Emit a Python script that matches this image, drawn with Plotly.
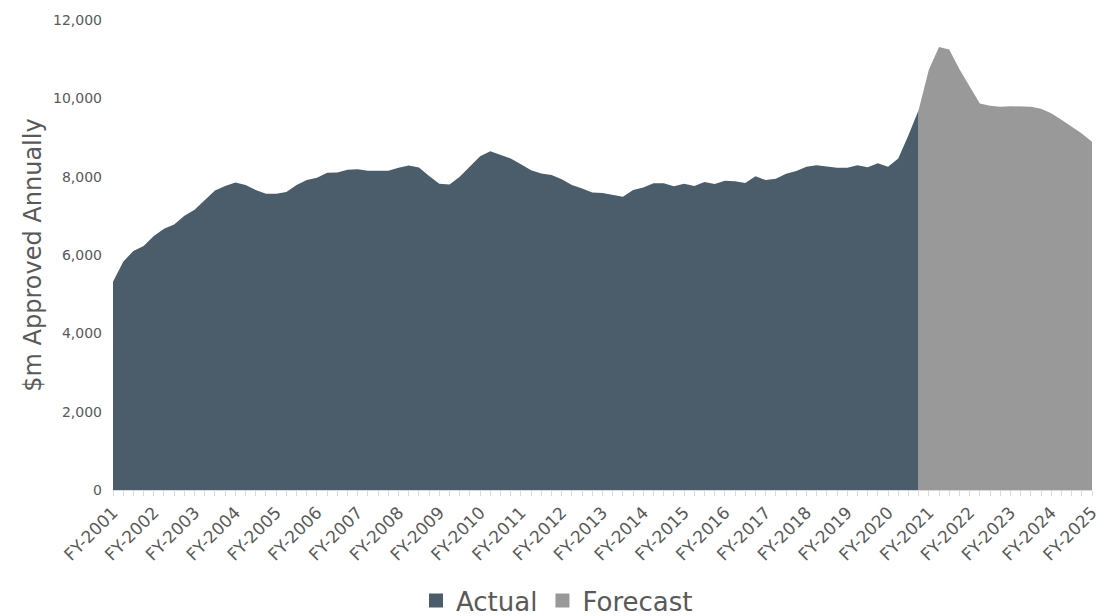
import plotly.graph_objects as go

# Quarterly approvals ($m), FY-2001 Q1 onward
actual = [
    5320, 5830, 6105, 6232, 6484, 6669, 6778, 7005, 7157, 7393,
    7646, 7763, 7848, 7788, 7662, 7561, 7561, 7611, 7788, 7914,
    7973, 8100, 8108, 8176, 8192, 8150, 8150, 8150, 8226, 8285,
    8234, 8015, 7822, 7797, 8000, 8253, 8521, 8647, 8546, 8462,
    8318, 8167, 8083, 8040, 7932, 7788, 7697, 7595, 7586, 7527,
    7485, 7662, 7721, 7831, 7831, 7755, 7822, 7763, 7864, 7814,
    7898, 7881, 7839, 8008, 7914, 7948, 8074, 8142, 8253, 8293,
    8253, 8226, 8226, 8293, 8243, 8344, 8253, 8462, 9060, 9700,
]
forecast = [
    9700, 10730, 11309, 11245, 10744, 10294, 9869, 9810, 9785, 9800,
    9800, 9785, 9735, 9617, 9456, 9270, 9102, 8891,
]
years = [f"FY-{y}" for y in range(2001, 2026)]

x_actual = list(range(len(actual)))
x_forecast = list(range(len(actual) - 1, len(actual) - 1 + len(forecast)))

ACTUAL_C = "#4b5d6b"
FORECAST_C = "#999999"
TEXT_C = "#595959"
AXIS_C = "#d9d9d9"

fig = go.Figure()
fig.add_trace(go.Scatter(x=x_actual, y=actual, fill="tozeroy", mode="lines",
                         line=dict(color=ACTUAL_C, width=0), fillcolor=ACTUAL_C,
                         showlegend=False, hoverinfo="skip"))
fig.add_trace(go.Scatter(x=x_forecast, y=forecast, fill="tozeroy", mode="lines",
                         line=dict(color=FORECAST_C, width=0), fillcolor=FORECAST_C,
                         showlegend=False, hoverinfo="skip"))
# legend swatches
for name, c in [("Actual", ACTUAL_C), ("Forecast", FORECAST_C)]:
    fig.add_trace(go.Scatter(x=[None], y=[None], mode="markers", name=name,
                             marker=dict(symbol="square", size=14, color=c)))

fig.update_layout(
    width=1114, height=616,
    margin=dict(l=113, r=22, t=15, b=126),
    paper_bgcolor="white", plot_bgcolor="white",
    font=dict(family="DejaVu Sans, Verdana, sans-serif", color=TEXT_C),
    showlegend=True,
    legend=dict(orientation="h", x=0.5, xanchor="center", xref="container",
                y=0.025, yref="container", yanchor="middle",
                font=dict(size=26, color=TEXT_C),
                itemwidth=30, tracegroupgap=0),
)
fig.update_xaxes(
    range=[0, len(actual) - 1 + len(forecast) - 1],
    tickmode="array", tickvals=list(range(0, 97, 4)), ticktext=years,
    tickangle=-45, tickfont=dict(size=17, color=TEXT_C),
    showline=True, linecolor=AXIS_C, linewidth=1,
    ticks="outside", ticklen=5, tickcolor=AXIS_C,
    minor=dict(dtick=1, tick0=0, ticks="outside", ticklen=5, tickcolor=AXIS_C),
    showgrid=False, zeroline=False,
)
fig.update_yaxes(
    range=[0, 12000], dtick=2000, tickformat=",d",
    tickfont=dict(size=14, color=TEXT_C), ticklabelstandoff=10,
    title=dict(text="$m Approved Annually", font=dict(size=24, color=TEXT_C), standoff=4),
    showgrid=False, zeroline=False, showline=False, ticks="",
)

fig.write_html("out.html")
